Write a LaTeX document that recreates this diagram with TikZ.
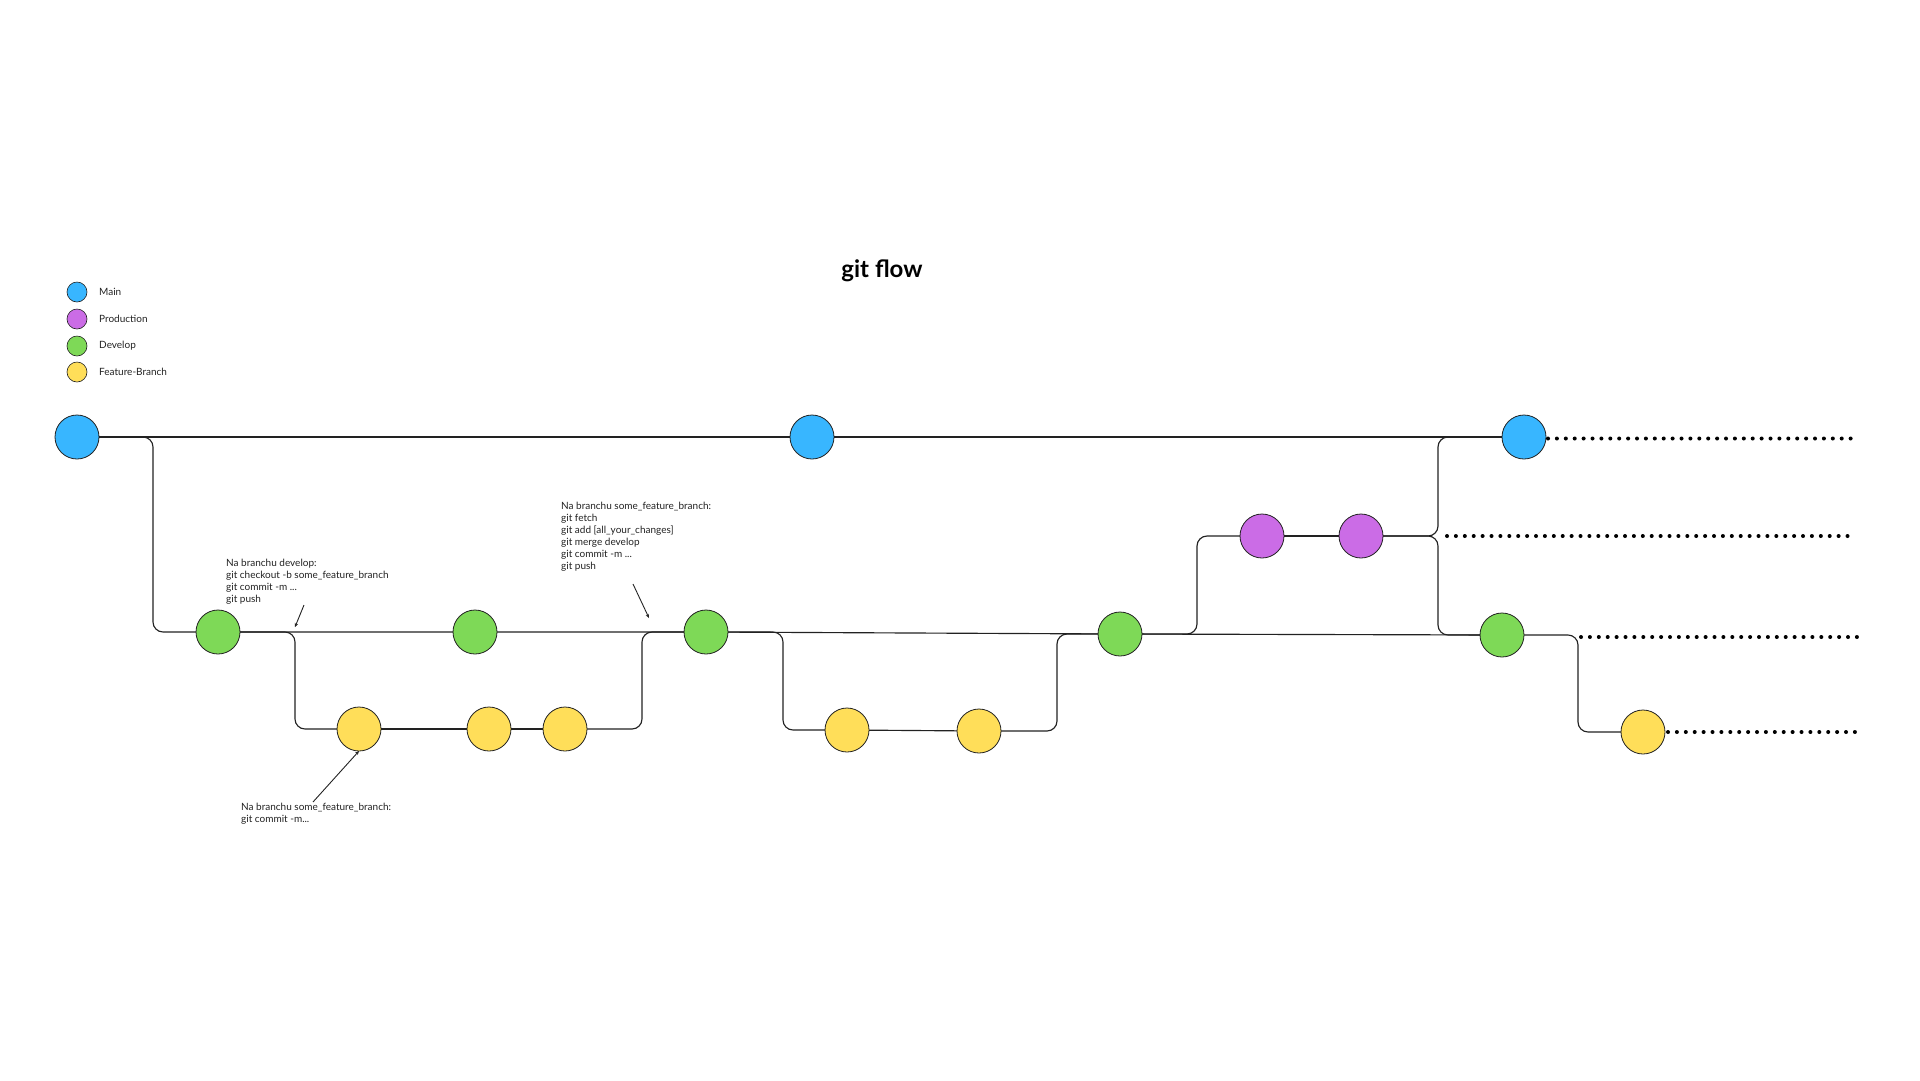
\documentclass[tikz,border=0pt]{standalone}
\usepackage{fontspec}
\setmainfont{Lato}
\usetikzlibrary{arrows.meta}
\definecolor{cmain}{HTML}{38B6FF}
\definecolor{cprod}{HTML}{CB6CE6}
\definecolor{cdev}{HTML}{7ED957}
\definecolor{cfeat}{HTML}{FFDE59}
\definecolor{ink}{HTML}{222222}
\begin{document}
\begin{tikzpicture}[x=1pt,y=-1pt,
  commit/.style={circle,draw=ink,line width=0.8pt,minimum size=44pt,inner sep=0pt,outer sep=0pt},
  leg/.style={circle,draw=ink,line width=0.6pt,minimum size=20pt,inner sep=0pt},
  legtxt/.style={anchor=west,inner sep=0pt,font=\fontsize{10}{12}\selectfont,text=ink},
  edge/.style={draw=ink,line width=1.15pt,rounded corners=10pt},
  dotline/.style={draw=black,line width=4pt,line cap=round,dash pattern=on 0pt off 8.9pt},
  note/.style={font=\fontsize{10}{12.1}\selectfont,align=left,anchor=north west,inner sep=0pt,text=ink},
  ann/.style={draw=ink,-{Stealth[length=4pt,width=3.5pt]},line width=0.9pt}
]
\useasboundingbox (0,0) rectangle (1920,1080);

% title
\node[font=\fontsize{24}{28}\selectfont\bfseries,text=black] (title) at (882,271) {git flow};

% legend
\node[leg,fill=cmain] (lm) at (77,292) {};
\node[leg,fill=cprod] (lp) at (77,319) {};
\node[leg,fill=cdev]  (ld) at (77,346) {};
\node[leg,fill=cfeat] (lf) at (77,372) {};
\node[legtxt] (tlm) at (99,292) {Main};
\node[legtxt] (tlp) at (99,319) {Production};
\node[legtxt] (tld) at (99,346) {Develop};
\node[legtxt] (tlf) at (99,372) {Feature-Branch};

% commits
\node[commit,fill=cmain] (M1) at (77,437) {};
\node[commit,fill=cmain] (M2) at (812,437) {};
\node[commit,fill=cmain] (M3) at (1524,437) {};
\node[commit,fill=cprod] (P1) at (1262,536) {};
\node[commit,fill=cprod] (P2) at (1361,536) {};
\node[commit,fill=cdev] (D1) at (218,632) {};
\node[commit,fill=cdev] (D2) at (475,632) {};
\node[commit,fill=cdev] (D3) at (706,632) {};
\node[commit,fill=cdev] (D4) at (1120,634) {};
\node[commit,fill=cdev] (D5) at (1502,635) {};
\node[commit,fill=cfeat] (F1) at (359,729) {};
\node[commit,fill=cfeat] (F2) at (489,729) {};
\node[commit,fill=cfeat] (F3) at (565,729) {};
\node[commit,fill=cfeat] (F4) at (847,730) {};
\node[commit,fill=cfeat] (F5) at (979,731) {};
\node[commit,fill=cfeat] (F6) at (1643,732) {};

% straight branch lines
\draw[edge] (M1) -- (M2) -- (M3);
\draw[edge] (D1) -- (D2) -- (D3) -- (D4) -- (D5);
\draw[edge] (F1) -- (F2) -- (F3);
\draw[edge] (F4) -- (F5);
\draw[edge] (P1) -- (P2);

% branching / merging
\draw[edge] (M1.east) -- ++(54,0) |- (D1.west);
\draw[edge] (D1.east) -- ++(55,0) |- (F1.west);
\draw[edge] (F3.east) -- ++(55,0) |- (D3.west);
\draw[edge] (D3.east) -- ++(55,0) |- (F4.west);
\draw[edge] (F5.east) -- ++(56,0) |- (D4.west);
\draw[edge] (D4.east) -- ++(55,0) |- (P1.west);
\draw[edge] (P2.east) -- ++(55,0) |- (M3.west);
\draw[edge] (P2.east) -- ++(55,0) |- (D5.west);
\draw[edge] (D5.east) -- ++(54,0) |- (F6.west);

% continuation dots
\coordinate (m3d) at ([xshift=2pt,yshift=-1.5pt]M3.east);
\coordinate (pjd) at ([xshift=64pt]P2.east);
\coordinate (d5d) at ([xshift=57pt,yshift=-2pt]D5.east);
\coordinate (f6d) at ([xshift=3pt]F6.east);
\draw[dotline] (m3d) -- ++(302.9,0);
\draw[dotline] (pjd) -- ++(400.8,0);
\draw[dotline] (d5d) -- ++(276.2,0);
\draw[dotline] (f6d) -- ++(187.2,0);

% annotations
\node[note] (n1) at (226,558.5) {Na branchu develop:\\git checkout -b some\_feature\_branch\\git commit -m ...\\git push};
\node[note] (n2) at (561,501.5) {Na branchu some\_feature\_branch:\\git fetch\\git add [all\_your\_changes]\\git merge develop\\git commit -m ...\\git push};
\node[note] (n3) at (241,802.5) {Na branchu some\_feature\_branch:\\git commit -m...};

\coordinate (a1s) at (304,605);
\coordinate (a1e) at (295,627);
\coordinate (a2s) at (633,584);
\coordinate (a2e) at (649,618);
\coordinate (a3s) at (313,802);
\draw[ann] (a1s) -- (a1e);
\draw[ann] (a2s) -- (a2e);
\draw[ann] (a3s) -- (F1.south);
\end{tikzpicture}
\end{document}
